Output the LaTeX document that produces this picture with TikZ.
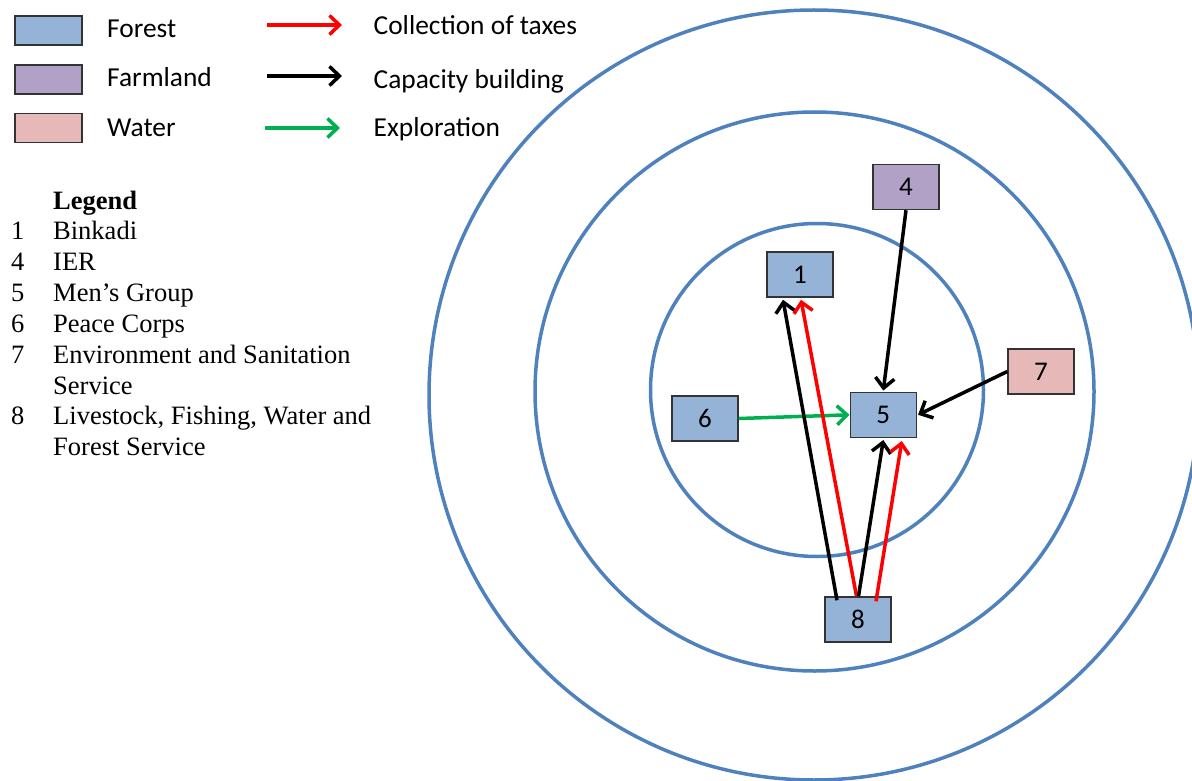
\documentclass[tikz,border=0pt]{standalone}
\usepackage{fontspec}
\setmainfont{Liberation Serif}
\newfontfamily\calfont{Carlito}
\usetikzlibrary{arrows.meta}
\definecolor{forestfill}{HTML}{95B3D7}
\definecolor{farmfill}{HTML}{B2A1C7}
\definecolor{waterfill}{HTML}{E6B9B8}
\definecolor{ringblue}{HTML}{4F81BD}
\definecolor{exgreen}{HTML}{00B050}
\definecolor{boxline}{HTML}{333333}
\tikzset{
  ring/.style={draw=ringblue, line width=3.5pt},
  actor/.style={draw=boxline, line width=1.5pt, minimum width=66pt, minimum height=45pt,
    inner sep=0pt, font=\calfont\fontsize{27}{30}\selectfont},
  keybox/.style={draw=boxline, line width=1.5pt, minimum width=67pt, minimum height=29pt, inner sep=0pt},
  keytext/.style={anchor=base west, inner sep=0pt, font=\calfont\fontsize{27.4}{32}\selectfont},
  listtext/.style={anchor=base west, inner sep=0pt, font=\fontsize{26.5}{30.8}\selectfont},
  flow/.style={line width=3.5pt, -{Straight Barb[length=10pt,width=19pt]}},
  taxes/.style={flow, draw=red},
  capacity/.style={flow, draw=black},
  explore/.style={flow, draw=exgreen},
}
\begin{document}
\begin{tikzpicture}[x=1pt, y=-1pt]
\useasboundingbox (0,0) rectangle (1192,781);
\clip (0,0) rectangle (1192,781);

% concentric rings
\draw[ring] (817,390) circle[radius=166.5pt];
\draw[ring] (814.5,391.5) circle[radius=279.5pt];
\draw[ring] (814,395) circle[radius=385pt];

% key: land types
\node[keybox, fill=forestfill] (kforest) at (48.5,30.5) {};
\node[keybox, fill=farmfill]   (kfarm)   at (48.5,79.5) {};
\node[keybox, fill=waterfill]  (kwater)  at (48.5,128) {};
\node[keytext] (tforest) at (107,38) {Forest};
\node[keytext] (tfarm)   at (107,87) {Farmland};
\node[keytext] (twater)  at (107,136.5) {Water};

% key: flow types
\coordinate (ra) at (267,25);  \coordinate (rb) at (342,25);
\coordinate (ba) at (267,76);  \coordinate (bb) at (342,76);
\coordinate (ga) at (265,128); \coordinate (gb) at (340,128);
\draw[taxes] (ra) -- (rb);
\draw[capacity] (ba) -- (bb);
\draw[explore] (ga) -- (gb);
\node[keytext] (ttaxes)   at (373.5,35)  {Collection of taxes};
\node[keytext] (tcap)     at (373.5,89)  {Capacity building};
\node[keytext] (texplore) at (373.5,137) {Exploration};

% numbered legend
\node[listtext, font=\bfseries\fontsize{26.5}{30.8}\selectfont] (lhead) at (53,209) {Legend};
\node[listtext] (l1n) at (11,240) {1};     \node[listtext] (l1t) at (53,240) {Binkadi};
\node[listtext] (l4n) at (11,270.8) {4};   \node[listtext] (l4t) at (53,270.8) {IER};
\node[listtext] (l5n) at (11,301.6) {5};   \node[listtext] (l5t) at (53,301.6) {Men’s Group};
\node[listtext] (l6n) at (11,332.4) {6};   \node[listtext] (l6t) at (53,332.4) {Peace Corps};
\node[listtext] (l7n) at (11,363.2) {7};   \node[listtext] (l7t) at (53,363.2) {Environment and Sanitation};
                                           \node[listtext] (l7u) at (53,394) {Service};
\node[listtext] (l8n) at (11,424.8) {8};   \node[listtext] (l8t) at (53,424.8) {Livestock, Fishing, Water and};
                                           \node[listtext] (l8u) at (53,455.6) {Forest Service};

% actors
\node[actor, fill=farmfill]   (n4) at (906,187)     {4};
\node[actor, fill=forestfill] (n1) at (800,274.5)   {1};
\node[actor, fill=waterfill]  (n7) at (1041,371.5)  {7};
\node[actor, fill=forestfill] (n5) at (883.3,414.8) {5};
\node[actor, fill=forestfill] (n6) at (705,418.5)   {6};
\node[actor, fill=forestfill] (n8) at (858,619.5)   {8};

% flows between actors
\draw[capacity] (n4.south) -- ([yshift=1pt]n5.north);
\draw[capacity] (n7.west) -- ([xshift=1pt]n5.east);
\draw[explore] (n6.east) -- (n5.west);
\draw[capacity] ([xshift=-21pt,yshift=-4pt]n8.north) -- ([xshift=-17pt,yshift=-2pt]n1.south);
\draw[taxes] ([xshift=-1.5pt]n8.north) -- ([xshift=1pt,yshift=-2pt]n1.south);
\draw[capacity] ([xshift=0.5pt]n8.north) -- ([yshift=-2pt]n5.south);
\draw[taxes] ([xshift=18pt,yshift=-5pt]n8.north) -- ([xshift=18.5pt,yshift=-3pt]n5.south);
\end{tikzpicture}
\end{document}
